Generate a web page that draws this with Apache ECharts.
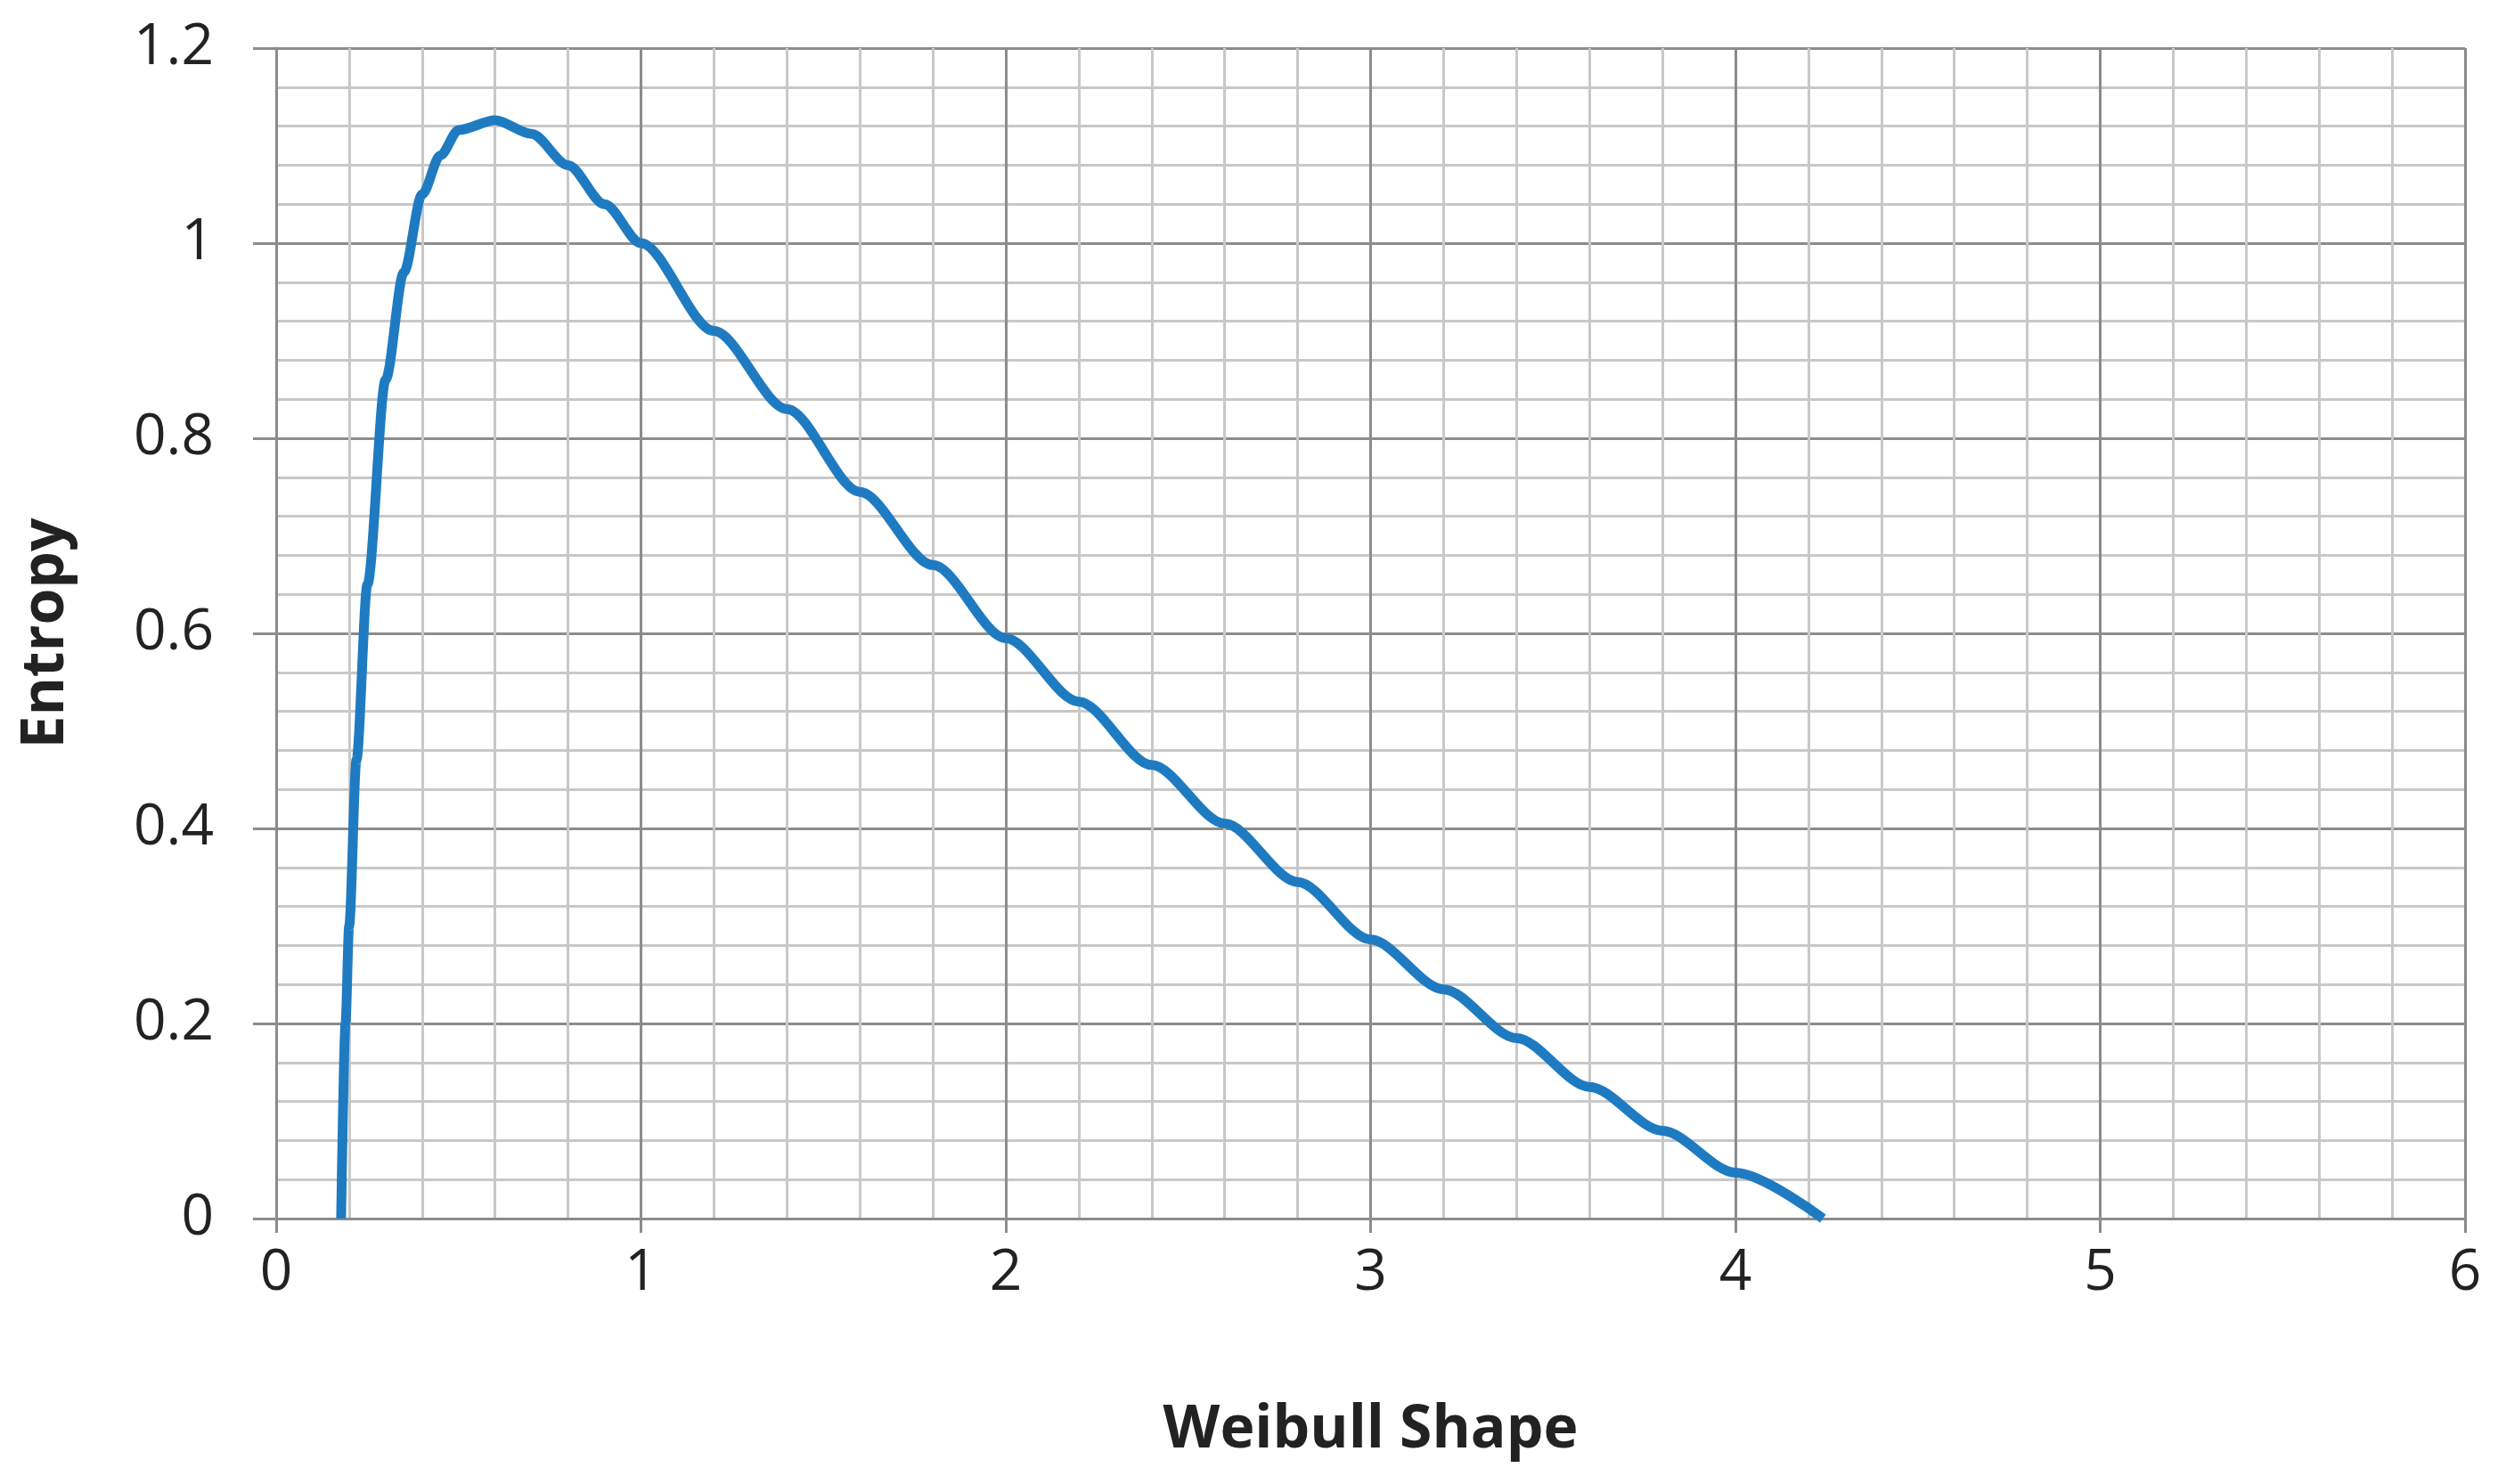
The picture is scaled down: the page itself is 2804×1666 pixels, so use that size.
<!DOCTYPE html>
<html>
<head>
<meta charset="utf-8">
<script src="https://cdn.jsdelivr.net/npm/echarts@6/dist/echarts.min.js"></script>
<style>html,body{margin:0;padding:0;background:#fff}#chart{width:2804px;height:1666px}</style>
</head>
<body>
<div id="chart"></div>
<script>
// Weibull shape vs entropy
const shape = [0.178, 0.19, 0.2, 0.22, 0.25, 0.3, 0.35, 0.4, 0.45, 0.5, 0.6, 0.7, 0.8, 0.9, 1.0,
  1.2, 1.4, 1.6, 1.8, 2.0, 2.2, 2.4, 2.6, 2.8, 3.0, 3.2, 3.4, 3.6, 3.8, 4.0, 4.24];
const entropy = [0, 0.2, 0.30, 0.47, 0.65, 0.86, 0.97, 1.05, 1.09, 1.116, 1.126, 1.112, 1.08, 1.04, 1.0,
  0.91, 0.83, 0.745, 0.67, 0.595, 0.53, 0.465, 0.405, 0.345, 0.286, 0.235, 0.185, 0.135, 0.09, 0.047, 0];

const chart = echarts.init(document.getElementById('chart'));
const font = '"Open Sans", "Liberation Sans", sans-serif';
const major = {show: true, lineStyle: {color: '#8c8c8c', width: 3}};
const minor = {show: true, lineStyle: {color: '#c8c8c8', width: 3}};

chart.setOption({
  animation: false,
  grid: {left: 310, right: 37, top: 54, bottom: 298},
  xAxis: {
    type: 'value', min: 0, max: 6, interval: 1,
    name: 'Weibull Shape', nameLocation: 'middle', nameGap: 205,
    nameTextStyle: {fontFamily: font, fontSize: 66, fontWeight: 'bold', color: '#222'},
    axisLine: {show: true, lineStyle: {color: '#8c8c8c', width: 3}},
    axisTick: {show: true, length: 16, lineStyle: {color: '#8c8c8c', width: 3}},
    axisLabel: {fontFamily: font, fontSize: 64, color: '#222', margin: 30},
    splitLine: major,
    minorTick: {show: false, splitNumber: 5},
    minorSplitLine: minor
  },
  yAxis: {
    type: 'value', min: 0, max: 1.2, interval: 0.2,
    name: 'Entropy', nameLocation: 'middle', nameGap: 225, nameRotate: 90,
    nameTextStyle: {fontFamily: font, fontSize: 66, fontWeight: 'bold', color: '#222'},
    axisLine: {show: true, lineStyle: {color: '#8c8c8c', width: 3}},
    axisTick: {show: true, length: 26, lineStyle: {color: '#8c8c8c', width: 3}},
    axisLabel: {fontFamily: font, fontSize: 64, color: '#222', margin: 70,
      formatter: v => String(Math.round(v * 10) / 10)},
    splitLine: major,
    minorTick: {show: false, splitNumber: 5},
    minorSplitLine: minor
  },
  series: [{
    type: 'line', smooth: 0.3, smoothMonotone: 'x', symbol: 'none',
    lineStyle: {color: '#1f7bc1', width: 11},
    data: shape.map((x, i) => [x, entropy[i]])
  }]
});
</script>
</body>
</html>
